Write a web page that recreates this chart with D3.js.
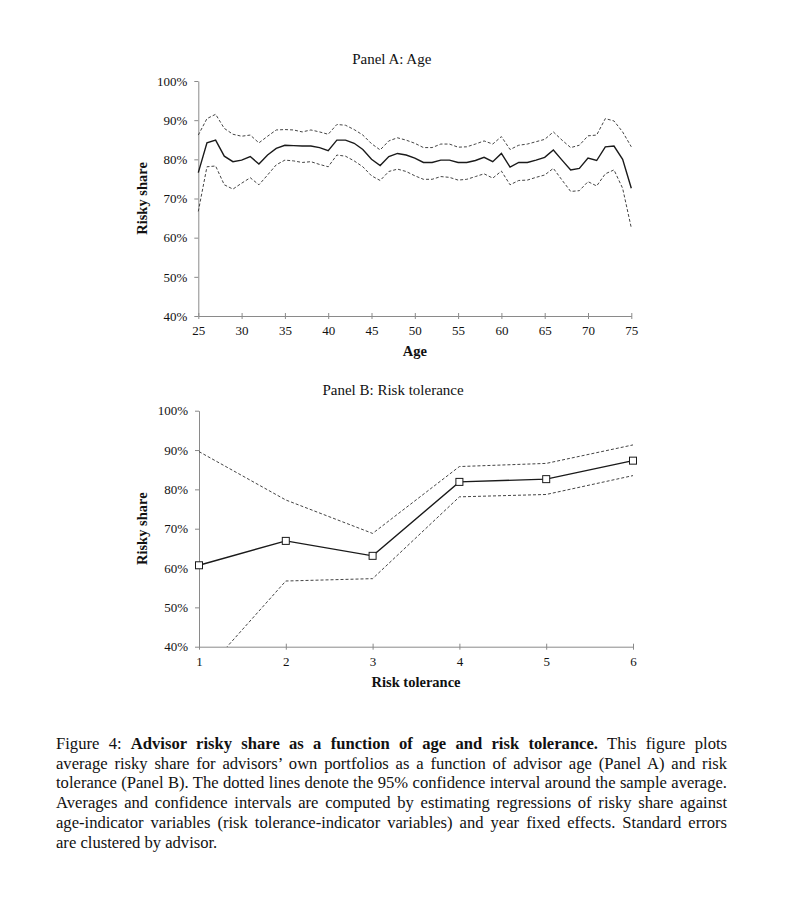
<!DOCTYPE html>
<html>
<head>
<meta charset="utf-8">
<script src="https://cdn.jsdelivr.net/npm/d3@7"></script>
<style>
  html, body { margin: 0; padding: 0; background: #fff; }
  svg { display: block; }
  text { font-family: "Liberation Serif", "DejaVu Serif", serif; fill: #111; }
</style>
</head>
<body>
<svg id="chart" width="791" height="899"></svg>
<script>
// ---------- Data ----------
const ages = [25,26,27,28,29,30,31,32,33,34,35,36,37,38,39,40,41,42,43,44,45,46,47,48,49,50,
              51,52,53,54,55,56,57,58,59,60,61,62,63,64,65,66,67,68,69,70,71,72,73,74,75];
const ageMean = [76.6,84.2,84.9,80.8,79.4,79.8,80.7,78.8,81.1,82.8,83.6,83.5,83.4,83.4,83.0,82.2,84.9,84.9,84.1,82.5,
                 80.0,78.4,80.7,81.5,81.1,80.3,79.2,79.2,79.8,79.8,79.2,79.2,79.7,80.5,79.4,81.5,78.0,79.2,79.2,79.8,
                 80.5,82.4,79.8,77.3,77.7,80.3,79.7,83.2,83.4,80.0,72.6];
const ageUpper = [86.2,90.4,91.5,87.9,86.4,85.9,86.2,84.2,85.9,87.5,87.6,87.5,87.0,87.5,87.0,86.4,88.9,88.7,87.6,86.2,
                  84.0,82.4,84.7,85.5,84.9,84.1,83.0,83.0,83.9,83.9,83.1,83.2,83.9,84.7,83.9,85.8,82.5,83.6,83.9,84.5,
                  85.1,87.0,84.9,83.0,83.6,86.0,86.2,90.4,89.8,87.0,83.2];
const ageLower = [66.7,78.1,78.3,73.5,72.4,73.9,75.3,73.5,76.0,78.6,79.8,79.6,79.2,79.4,78.7,78.1,81.1,80.8,79.6,78.1,
                  75.8,74.6,76.9,77.5,76.9,75.8,74.9,74.9,75.6,75.4,74.7,74.9,75.6,76.3,75.2,77.0,73.5,74.6,74.7,75.4,
                  76.0,77.7,74.7,71.8,72.0,74.3,73.2,76.3,77.3,72.6,62.5];

const riskTol = [1,2,3,4,5,6];
const riskMean = [60.7,66.9,63.1,81.9,82.6,87.3];
const riskUpper = [89.6,77.3,68.8,85.8,86.6,91.3];
const riskLower = [32.0,56.7,57.3,78.1,78.7,83.5];

const ageTicks = [25,30,35,40,45,50,55,60,65,70,75];
const yTicks = [40,50,60,70,80,90,100];

const panelTitles = ["Panel A: Age", "Panel B: Risk tolerance"];
const xTitles = ["Age", "Risk tolerance"];
const yTitle = "Risky share";

const captionLines = [
  [{t:"Figure 4: ", b:false},{t:"Advisor risky share as a function of age and risk tolerance.", b:true},{t:" This figure plots", b:false}],
  [{t:"average risky share for advisors\u2019 own portfolios as a function of advisor age (Panel A) and risk", b:false}],
  [{t:"tolerance (Panel B). The dotted lines denote the 95% confidence interval around the sample average.", b:false}],
  [{t:"Averages and confidence intervals are computed by estimating regressions of risky share against", b:false}],
  [{t:"age-indicator variables (risk tolerance-indicator variables) and year fixed effects. Standard errors", b:false}],
  [{t:"are clustered by advisor.", b:false}]
];

// ---------- Drawing ----------
const svg = d3.select("#chart");
const axisColor = "#8a8a8a";
const pct = v => v + "%";

function drawPanel(cfg) {
  const g = svg.append("g");
  const x = d3.scaleLinear().domain(cfg.xDomain).range([cfg.x0, cfg.x1]);
  const y = d3.scaleLinear().domain([40, 100]).range([cfg.y0, cfg.y1]);

  const clipId = "clip" + cfg.id;
  svg.append("clipPath").attr("id", clipId).append("rect")
    .attr("x", cfg.x0 - 5).attr("y", cfg.y1 - 5)
    .attr("width", cfg.x1 - cfg.x0 + 10).attr("height", cfg.y0 - cfg.y1 + 5);

  const yAxis = g.append("g").attr("transform", `translate(${cfg.x0},0)`)
    .call(d3.axisLeft(y).tickValues(yTicks).tickFormat(pct).tickSize(4).tickSizeOuter(0).tickPadding(7));
  yAxis.attr("font-family", null).attr("font-size", null);
  yAxis.select(".domain").attr("stroke", axisColor);
  yAxis.selectAll(".tick line").attr("stroke", axisColor);
  yAxis.selectAll(".tick text").style("font-size", "13px").attr("fill", "#111");

  const xAxis = g.append("g").attr("transform", `translate(0,${cfg.y0})`)
    .call(d3.axisBottom(x).tickValues(cfg.xTicks).tickFormat(d3.format("d")).tickSize(3).tickSizeOuter(0).tickPadding(7));
  xAxis.attr("font-family", null).attr("font-size", null);
  xAxis.select(".domain").attr("stroke", axisColor);
  xAxis.selectAll(".tick line").attr("stroke", axisColor).attr("y1", -3).attr("y2", 3);
  xAxis.selectAll(".tick text").style("font-size", "13px").attr("fill", "#111");

  g.append("text").attr("x", (cfg.x0 + cfg.x1) / 2 - 23).attr("y", cfg.titleY)
    .attr("text-anchor", "middle").style("font-size", "15px").text(cfg.title);
  g.append("text").attr("x", (cfg.x0 + cfg.x1) / 2).attr("y", cfg.y0 + 40)
    .attr("text-anchor", "middle").style("font-size", "14.5px").attr("font-weight", "bold").text(cfg.xTitle);
  g.append("text")
    .attr("transform", `translate(${cfg.yTitleX},${(cfg.y0 + cfg.y1) / 2}) rotate(-90)`)
    .attr("text-anchor", "middle").style("font-size", "14.5px").attr("font-weight", "bold").text(yTitle);

  const line = d3.line().x((d, i) => x(cfg.xs[i])).y(d => y(d));
  const plot = g.append("g").attr("clip-path", `url(#${clipId})`);

  plot.append("path").datum(cfg.upper).attr("d", line)
    .attr("fill", "none").attr("stroke", "#444").attr("stroke-width", 1).attr("stroke-dasharray", "3,2");
  plot.append("path").datum(cfg.lower).attr("d", line)
    .attr("fill", "none").attr("stroke", "#444").attr("stroke-width", 1).attr("stroke-dasharray", "3,2");
  plot.append("path").datum(cfg.mean).attr("d", line)
    .attr("fill", "none").attr("stroke", "#1a1a1a").attr("stroke-width", 1.4);

  if (cfg.markers) {
    g.selectAll(".mk" + cfg.id).data(cfg.mean).enter().append("rect")
      .attr("x", (d, i) => x(cfg.xs[i]) - 3.5).attr("y", d => y(d) - 3.5)
      .attr("width", 7).attr("height", 7)
      .attr("fill", "#fff").attr("stroke", "#1a1a1a").attr("stroke-width", 1);
  }
}

drawPanel({
  id: "A", xs: ages, xDomain: [25, 75], xTicks: ageTicks,
  x0: 198.3, x1: 631.3, y0: 316, y1: 81,
  mean: ageMean, upper: ageUpper, lower: ageLower,
  title: panelTitles[0], titleY: 64, xTitle: xTitles[0], yTitleX: 147, markers: false
});

drawPanel({
  id: "B", xs: riskTol, xDomain: [1, 6], xTicks: riskTol,
  x0: 199, x1: 633, y0: 646.7, y1: 410.7,
  mean: riskMean, upper: riskUpper, lower: riskLower,
  title: panelTitles[1], titleY: 395, xTitle: xTitles[1], yTitleX: 147, markers: true
});

// caption, justified via word spacing
const capX0 = 56, capX1 = 727, capY0 = 749, capDy = 19.7;
captionLines.forEach((parts, i) => {
  const t = svg.append("text").attr("x", capX0).attr("y", capY0 + i * capDy)
    .style("font-size", "16.6px").attr("xml:space", "preserve");
  parts.forEach(p => {
    t.append("tspan").attr("font-weight", p.b ? "bold" : "normal").text(p.t);
  });
  if (i < captionLines.length - 1) {
    const natural = t.node().getComputedTextLength();
    const spaces = parts.map(p => p.t).join("").split(" ").length - 1;
    const extra = (capX1 - capX0 - natural) / spaces;
    if (extra >= 0) {
      t.style("word-spacing", extra + "px");
    } else {
      t.attr("textLength", capX1 - capX0).attr("lengthAdjust", "spacingAndGlyphs");
    }
  }
});
</script>
</body>
</html>
